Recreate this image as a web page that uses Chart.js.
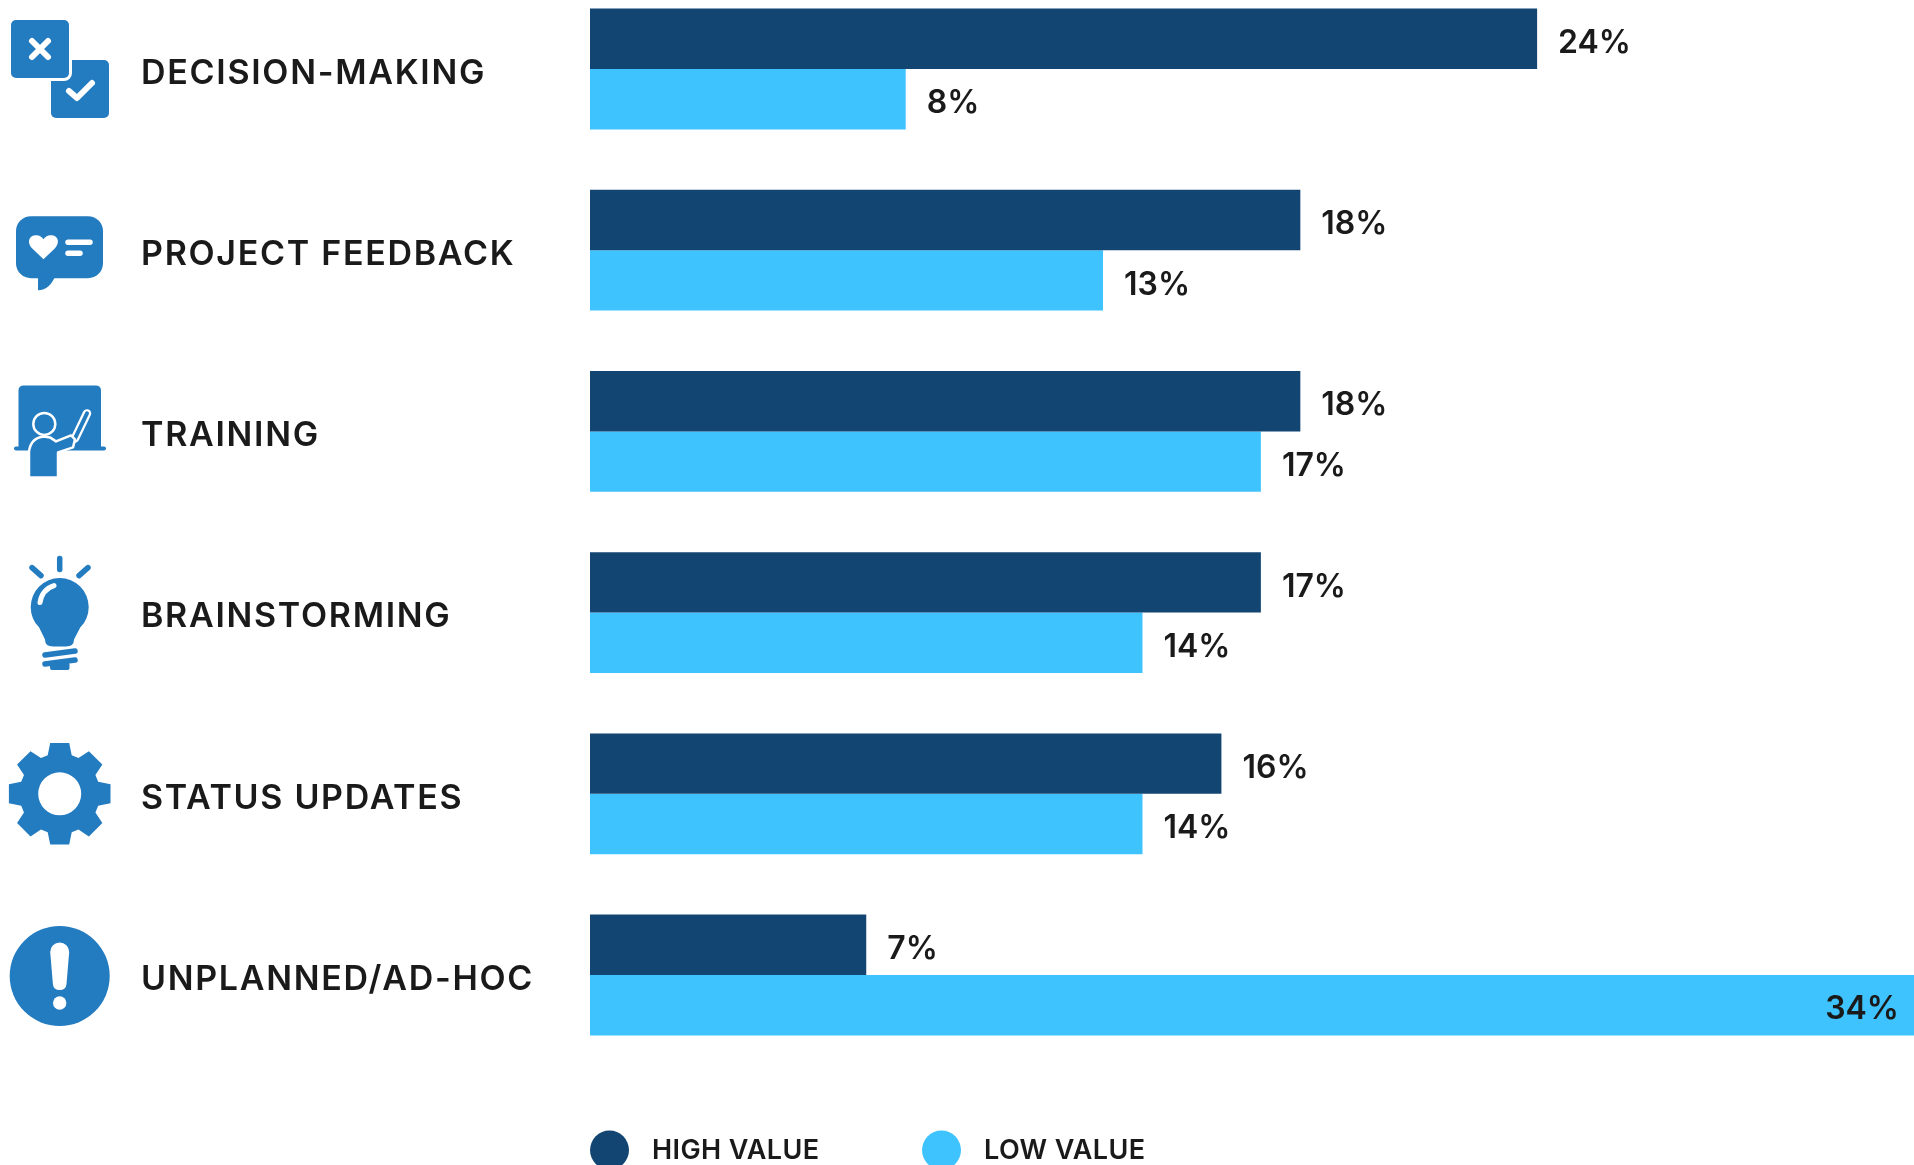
<!DOCTYPE html>
<html>
<head>
<meta charset="utf-8">
<title>Meeting types by value</title>
<script src="https://cdn.jsdelivr.net/npm/chart.js@4"></script>
<style>
  html, body { margin: 0; width: 1914px; height: 1165px; overflow: hidden; background: #fff; }
  #chart { position: absolute; left: 0; top: -30px; display: block; }
</style>
</head>
<body>
<canvas id="chart" width="1914" height="1205"></canvas>
<script>
const categories = ["DECISION-MAKING", "PROJECT FEEDBACK", "TRAINING", "BRAINSTORMING", "STATUS UPDATES", "UNPLANNED/AD-HOC"];
const highValue = [24, 18, 18, 17, 16, 7];
const lowValue = [8, 13, 17, 14, 14, 34];
const seriesNames = ["HIGH VALUE", "LOW VALUE"];

const DARK = "#134573";
const LIGHT = "#3FC3FF";
const ICON = "#237BC0";
const INK = "#1a1a1a";
const FONT = "Inter";

// Icon painters: x is page-based, y = 0 is the centre of the category band.
const iconPainters = [
  function choice(c) {
    c.fillStyle = ICON;
    c.beginPath(); c.roundRect(51, -9, 58, 58, 5); c.fill();
    c.strokeStyle = "#fff"; c.lineWidth = 6;
    c.beginPath(); c.roundRect(11, -49, 58, 58, 5); c.stroke();
    c.fill();
    c.strokeStyle = "#fff"; c.lineCap = "round"; c.lineJoin = "round"; c.lineWidth = 6;
    c.beginPath(); c.moveTo(32, -28); c.lineTo(48, -12); c.moveTo(48, -28); c.lineTo(32, -12); c.stroke();
    c.beginPath(); c.moveTo(69, 22); c.lineTo(77, 29); c.lineTo(92, 14); c.stroke();
  },
  function feedback(c) {
    c.fillStyle = ICON;
    c.beginPath(); c.roundRect(16, -34, 87, 62, 15); c.fill();
    c.beginPath(); c.moveTo(38, 24); c.lineTo(38, 40); c.quadraticCurveTo(50, 40, 56, 24); c.closePath(); c.fill();
    c.fillStyle = "#fff";
    c.beginPath(); c.moveTo(43.5, 9); c.lineTo(32, -2);
    c.bezierCurveTo(26, -9, 30, -15, 36, -15); c.bezierCurveTo(40, -15, 42, -13, 43.5, -11);
    c.bezierCurveTo(45, -13, 47, -15, 51, -15); c.bezierCurveTo(57, -15, 61, -9, 55, -2);
    c.closePath(); c.fill();
    c.strokeStyle = "#fff"; c.lineCap = "round"; c.lineWidth = 5.5;
    c.beginPath(); c.moveTo(68, -8); c.lineTo(90, -8); c.moveTo(68, 3); c.lineTo(80, 3); c.stroke();
  },
  function teaching(c) {
    c.fillStyle = ICON; c.lineCap = "round"; c.lineJoin = "round";
    c.beginPath(); c.roundRect(18.5, -46, 82.5, 63, [5, 5, 0, 0]); c.fill();
    c.beginPath(); c.roundRect(14, 15, 92, 4, 2); c.fill();
    c.strokeStyle = "#fff"; c.lineWidth = 8.5;
    c.beginPath(); c.moveTo(75, 7); c.lineTo(87, -18); c.stroke();
    c.strokeStyle = ICON; c.lineWidth = 4;
    c.beginPath(); c.moveTo(75, 7); c.lineTo(87, -18); c.stroke();
    c.strokeStyle = "#fff"; c.lineWidth = 2.5;
    c.beginPath(); c.arc(44.3, -7.5, 11, 0, Math.PI * 2); c.fill(); c.stroke();
    c.beginPath();
    c.moveTo(29, 46); c.lineTo(29, 20); c.quadraticCurveTo(31, 6, 44, 5);
    c.lineTo(50, 6); c.lineTo(56, 10); c.lineTo(71, 4); c.lineTo(75, 8); c.lineTo(73, 16);
    c.lineTo(58, 21); c.lineTo(58, 46); c.closePath();
    c.fill(); c.stroke();
  },
  function idea(c) {
    c.fillStyle = ICON; c.strokeStyle = ICON; c.lineCap = "round"; c.lineWidth = 5.5;
    c.beginPath();
    c.moveTo(59.7, -54); c.lineTo(59.7, -43);
    c.moveTo(32, -45); c.lineTo(41, -37);
    c.moveTo(88, -45); c.lineTo(79, -37);
    c.stroke();
    c.beginPath();
    c.arc(59.7, -5.5, 29, Math.PI * 0.75, Math.PI * 0.25);
    c.lineTo(74, 27); c.quadraticCurveTo(74, 34, 66, 34); c.lineTo(53, 34); c.quadraticCurveTo(45, 34, 45, 27);
    c.closePath(); c.fill();
    c.lineWidth = 5.5;
    c.beginPath(); c.moveTo(45, 42.5); c.lineTo(75, 38.5); c.moveTo(45, 51.5); c.lineTo(75, 47.5); c.stroke();
    c.beginPath(); c.roundRect(50, 50, 19.5, 7.5, 2); c.fill();
    c.strokeStyle = "#fff"; c.lineWidth = 5;
    c.beginPath(); c.moveTo(40, -10); c.quadraticCurveTo(42, -23, 54, -27); c.stroke();
  },
  function settings(c) {
    c.fillStyle = ICON;
    c.beginPath();
    for (let t = 0; t < 8; t++) {
      const a = t * Math.PI / 4;
      const pt = (px, py) => [59.7 + px * Math.cos(a) - py * Math.sin(a), py * Math.cos(a) + px * Math.sin(a)];
      [[-38.5, 12], [-50.8, 9.5], [-50.8, -9.5], [-38.5, -12]].forEach(([u, v], k) => {
        const [x, y] = pt(u, v);
        if (t === 0 && k === 0) c.moveTo(x, y); else c.lineTo(x, y);
      });
    }
    c.closePath();
    c.moveTo(81.2, 0); c.arc(59.7, 0, 21.5, 0, Math.PI * 2, true);
    c.fill("evenodd");
  },
  function alert(c) {
    c.fillStyle = ICON;
    c.beginPath(); c.arc(59.7, 1, 50, 0, Math.PI * 2); c.fill();
    c.fillStyle = "#fff";
    c.beginPath();
    c.moveTo(50.2, -23); c.arc(59.7, -23, 9.5, Math.PI, 0);
    c.lineTo(66.5, 9); c.quadraticCurveTo(66, 15, 59.7, 15); c.quadraticCurveTo(53.4, 15, 52.9, 9);
    c.closePath(); c.fill();
    c.beginPath(); c.arc(59.7, 28, 6.7, 0, Math.PI * 2); c.fill();
  }
];

const pageFurniture = {
  id: "pageFurniture",
  beforeDraw(chart) {
    chart.ctx.letterSpacing = "1.7px";
  },
  afterDatasetsDraw(chart) {
    const c = chart.ctx;
    const area = chart.chartArea;
    const yScale = chart.scales.y;
    c.save();
    c.letterSpacing = "0px";

    // Category icons
    categories.forEach((_, i) => {
      c.save();
      c.translate(0, yScale.getPixelForTick(i));
      iconPainters[i](c);
      c.restore();
    });

    // Value labels at the end of each bar
    c.font = "600 32px " + FONT;
    c.fillStyle = INK;
    c.textBaseline = "middle";
    chart.data.datasets.forEach((ds, d) => {
      chart.getDatasetMeta(d).data.forEach((bar, i) => {
        const text = ds.data[i] + "%";
        if (bar.x > area.right) {
          c.textAlign = "right";
          c.fillText(text, area.right - 15, bar.y + 4.5);
        } else {
          c.textAlign = "left";
          c.fillText(text, bar.x + 21, bar.y + 4.5);
        }
      });
    });

    // Legend row below the plot
    const rowY = area.bottom + 84.5;
    const swatchX = [area.left + 19.5, area.left + 351.5];
    c.font = "600 27px " + FONT;
    c.letterSpacing = "0.4px";
    c.textAlign = "left";
    chart.data.datasets.forEach((ds, d) => {
      c.fillStyle = ds.backgroundColor;
      c.beginPath(); c.arc(swatchX[d], rowY, 19.5, 0, Math.PI * 2); c.fill();
      c.fillStyle = INK;
      c.fillText(ds.label, swatchX[d] + 42.5, rowY + 1);
    });
    c.restore();
  }
};

new Chart(document.getElementById("chart"), {
  type: "bar",
  data: {
    labels: categories,
    datasets: [
      { label: seriesNames[0], data: highValue, backgroundColor: DARK },
      { label: seriesNames[1], data: lowValue, backgroundColor: LIGHT }
    ]
  },
  options: {
    indexAxis: "y",
    responsive: false,
    animation: false,
    events: [],
    layout: { padding: { left: 141, right: 0, top: 8.4, bottom: 109.4 } },
    datasets: { bar: { categoryPercentage: 0.6667, barPercentage: 1 } },
    plugins: { legend: { display: false }, tooltip: { enabled: false } },
    scales: {
      x: { display: false, min: 0, max: 33.55 },
      y: {
        afterFit(scale) {
          scale.width = 449;
          scale.paddingTop = 0;
          scale.paddingBottom = 0;
        },
        border: { display: false },
        grid: { display: false, drawTicks: false },
        ticks: {
          autoSkip: false,
          crossAlign: "far",
          padding: 0,
          labelOffset: 4.5,
          color: INK,
          font: { family: FONT, size: 34, weight: "600" }
        }
      }
    }
  },
  plugins: [pageFurniture]
});
</script>
</body>
</html>
